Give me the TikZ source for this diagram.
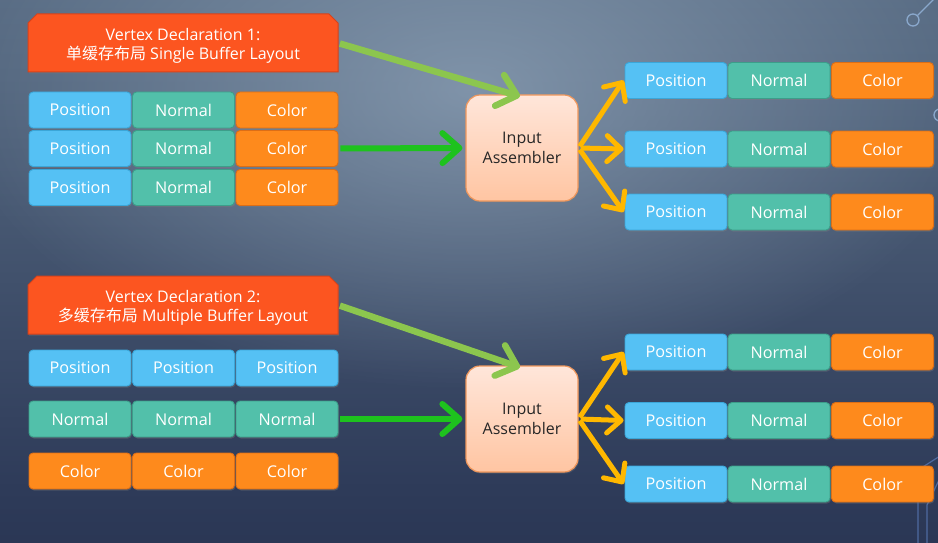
\documentclass[tikz,border=0pt]{standalone}
\usepackage{fontspec}
\setmainfont{Open Sans}
\newfontfamily\cjk{Noto Sans CJK SC}
\usetikzlibrary{arrows.meta,shadows,fadings}
\definecolor{bgbot}{HTML}{1A2240}
\definecolor{bgmid2}{HTML}{2E3B59}
\definecolor{bgmid}{HTML}{53667E}
\definecolor{bgtop}{HTML}{687D95}
\definecolor{glow}{HTML}{8FA3B8}
\definecolor{posfill}{HTML}{55C1F4}
\definecolor{posline}{HTML}{3BA6D8}
\definecolor{nrmfill}{HTML}{52C0AA}
\definecolor{nrmline}{HTML}{3C9E8A}
\definecolor{colfill}{HTML}{FE8A1C}
\definecolor{colline}{HTML}{DC6E16}
\definecolor{titfill}{HTML}{FC5520}
\definecolor{titline}{HTML}{D8421A}
\definecolor{iatop}{HTML}{FFE6DA}
\definecolor{iabot}{HTML}{FFC5A2}
\definecolor{ialine}{HTML}{F0975C}
\definecolor{arrgreen}{HTML}{1EC21E}
\definecolor{arrlgreen}{HTML}{8CC64E}
\definecolor{arryellow}{HTML}{FFB800}
\definecolor{decor}{HTML}{8AA8CC}
\definecolor{decordark}{HTML}{4E6AA0}
\pgfdeclareverticalshading{bgv}{100bp}{color(0bp)=(bgbot); color(30bp)=(bgmid2); color(68bp)=(bgmid); color(100bp)=(bgtop)}
\tikzfading[name=myglow, inner color=transparent!0, outer color=transparent!100]
\begin{document}
\begin{tikzpicture}[x=1pt,y=-1pt,
  cell/.style={draw, line width=0.9pt, rounded corners=4pt, minimum width=102pt,
    minimum height=36pt, inner sep=0pt, text=white,
    font=\fontsize{16.2}{19}\selectfont,
    drop shadow={opacity=0.35,shadow xshift=1pt,shadow yshift=-1.5pt}},
  poscell/.style={cell, fill=posfill, draw=posline},
  nrmcell/.style={cell, fill=nrmfill, draw=nrmline},
  colcell/.style={cell, fill=colfill, draw=colline},
  titleshape/.style={fill=titfill, draw=titline, line width=1pt,
    drop shadow={opacity=0.35,shadow xshift=1pt,shadow yshift=-1.5pt}},
  titletext/.style={inner sep=0pt, text=white, align=center,
    font=\fontsize{16}{19.5}\selectfont},
  iabox/.style={draw=ialine, line width=1.2pt, rounded corners=14pt, minimum width=112pt,
    minimum height=106pt, top color=iatop, bottom color=iabot, text=black!85,
    align=center, font=\fontsize{16}{19.5}\selectfont,
    drop shadow={opacity=0.3,shadow xshift=1pt,shadow yshift=-1.5pt}},
  garrow/.style={draw=arrgreen, line width=6pt, shorten <=2pt,
    -{Straight Barb[round,length=17pt,width=30pt]}},
  lgarrow/.style={draw=arrlgreen, line width=6.5pt, shorten <=2pt,
    -{Straight Barb[round,length=18pt,width=32pt]}},
  yarrow/.style={draw=arryellow, line width=5pt, shorten <=2pt,
    -{Straight Barb[round,length=14pt,width=26pt]}},
  deco/.style={draw=decor, line width=1.3pt},
  decod/.style={draw=decordark, line width=1.2pt}
]
\useasboundingbox (0,0) rectangle (938,543);
\clip (0,0) rectangle (938,543);
% background
\shade[shading=bgv] (0,0) rectangle (938,543);
\fill[glow, path fading=myglow, fill opacity=0.75] (470,90) ellipse (520pt and 300pt);
% decorations
\draw[deco] (913,20) circle (6pt);
\draw[deco] (917.5,15.5) -- (940,-7);
\draw[deco] (940,115) circle (6pt);
\draw[decod] (940,456) -- (918,470) -- (918,545);
\draw[decod] (940,478) -- (927,505) -- (927,545);

% ---------- top part ----------
\path[titleshape] (28,72) -- (28,23) -- (37,14) -- (329,14) -- (338,23) -- (338,72) -- cycle;
\coordinate (t1e) at (338,43);
\node[titletext] (t1) at (183,46) {Vertex Declaration 1:\\{\cjk 单缓存布局} Single Buffer Layout};

\node[poscell] (a11) at (80,110) {Position};
\node[nrmcell] (a12) at (183.5,110) {Normal};
\node[colcell] (a13) at (287,110) {Color};
\node[poscell] (a21) at (80,148.5) {Position};
\node[nrmcell] (a22) at (183.5,148.5) {Normal};
\node[colcell] (a23) at (287,148.5) {Color};
\node[poscell] (a31) at (80,187.5) {Position};
\node[nrmcell] (a32) at (183.5,187.5) {Normal};
\node[colcell] (a33) at (287,187.5) {Color};

\node[iabox] (ia1) at (522,148) {Input\\Assembler};

\node[poscell] (r11) at (676,80.5) {Position};
\node[nrmcell] (r12) at (779,80.5) {Normal};
\node[colcell] (r13) at (882.5,80.5) {Color};
\node[poscell] (r21) at (676,149) {Position};
\node[nrmcell] (r22) at (779,149) {Normal};
\node[colcell] (r23) at (882.5,149) {Color};
\node[poscell] (r31) at (676,212) {Position};
\node[nrmcell] (r32) at (779,212) {Normal};
\node[colcell] (r33) at (882.5,212) {Color};

\draw[lgarrow] (t1e) -- ([xshift=-2pt,yshift=-2pt]ia1.north);
\draw[garrow] (a23.east) -- ([xshift=-3pt]ia1.west);
\draw[yarrow] (ia1.east) -- ([xshift=-1pt]r11.west);
\draw[yarrow] (ia1.east) -- ([xshift=-1pt]r21.west);
\draw[yarrow] (ia1.east) -- ([xshift=-1pt]r31.west);

% ---------- bottom part ----------
\path[titleshape] (28,334) -- (28,285) -- (37,276) -- (329,276) -- (338,285) -- (338,334) -- cycle;
\coordinate (t2e) at (338,305);
\node[titletext] (t2) at (183,308) {Vertex Declaration 2:\\{\cjk 多缓存布局} Multiple Buffer Layout};

\node[poscell] (b11) at (80,368) {Position};
\node[poscell] (b12) at (183.5,368) {Position};
\node[poscell] (b13) at (287,368) {Position};
\node[nrmcell] (b21) at (80,419) {Normal};
\node[nrmcell] (b22) at (183.5,419) {Normal};
\node[nrmcell] (b23) at (287,419) {Normal};
\node[colcell] (b31) at (80,471) {Color};
\node[colcell] (b32) at (183.5,471) {Color};
\node[colcell] (b33) at (287,471) {Color};

\node[iabox] (ia2) at (522,419) {Input\\Assembler};

\node[poscell] (s11) at (676,352) {Position};
\node[nrmcell] (s12) at (779,352) {Normal};
\node[colcell] (s13) at (882.5,352) {Color};
\node[poscell] (s21) at (676,420.5) {Position};
\node[nrmcell] (s22) at (779,420.5) {Normal};
\node[colcell] (s23) at (882.5,420.5) {Color};
\node[poscell] (s31) at (676,484) {Position};
\node[nrmcell] (s32) at (779,484) {Normal};
\node[colcell] (s33) at (882.5,484) {Color};

\draw[lgarrow] (t2e) -- ([xshift=-2pt,yshift=-2pt]ia2.north);
\draw[garrow] (b23.east) -- ([xshift=-3pt]ia2.west);
\draw[yarrow] (ia2.east) -- ([xshift=-1pt]s11.west);
\draw[yarrow] (ia2.east) -- ([xshift=-1pt]s21.west);
\draw[yarrow] (ia2.east) -- ([xshift=-1pt]s31.west);
\end{tikzpicture}
\end{document}
